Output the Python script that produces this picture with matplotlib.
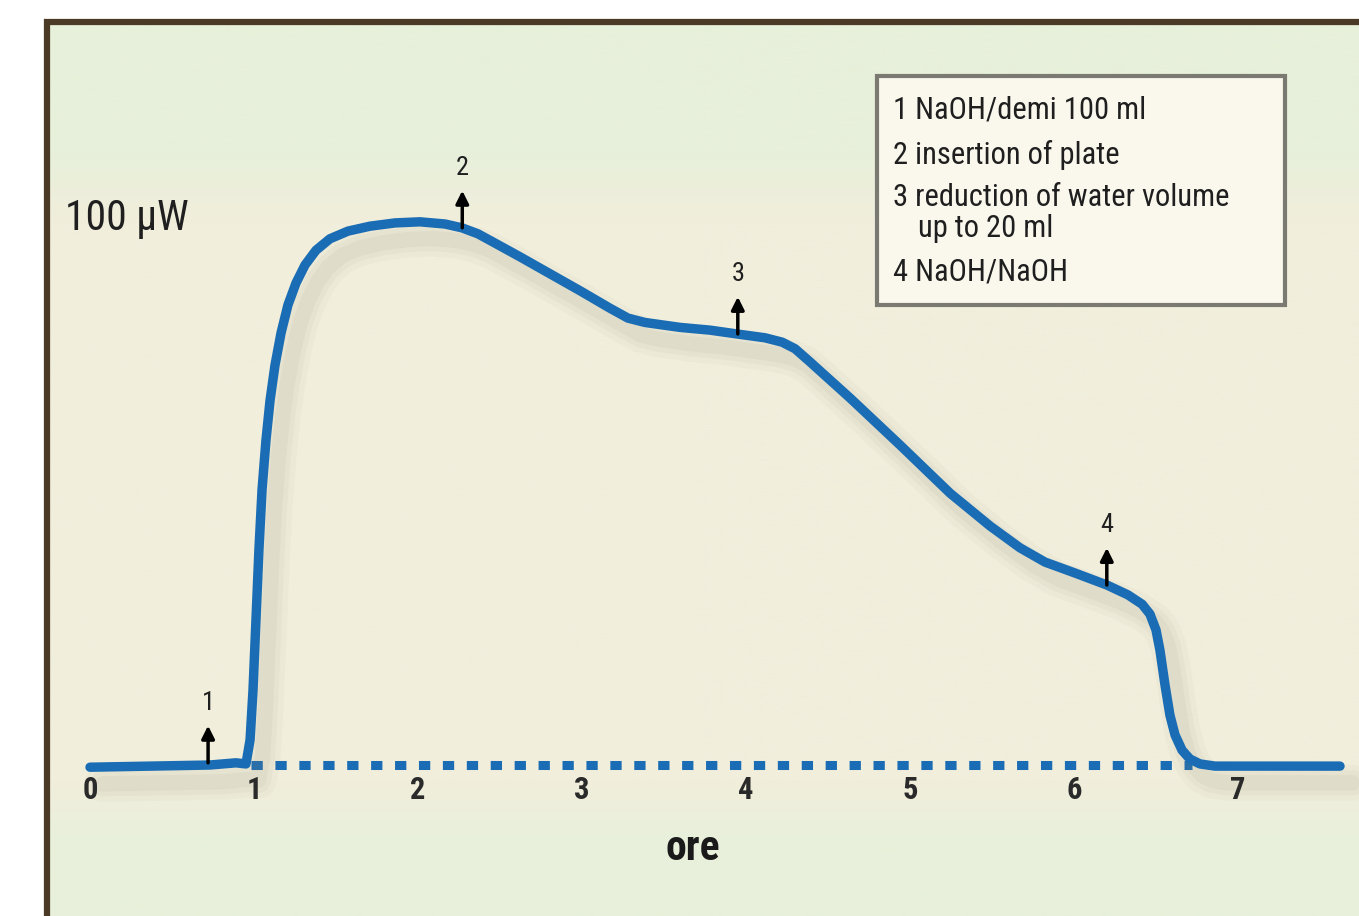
import numpy as np
import matplotlib
matplotlib.use("Agg")
import matplotlib.pyplot as plt
import matplotlib.patheffects as pe
from matplotlib import font_manager
from matplotlib.patches import Rectangle

# heat flow trace (hours, microwatt)
hours = [0, 0.37, 0.73, 0.89, 0.951, 0.976, 0.994, 1.012, 1.030, 1.049, 1.073,
         1.098, 1.128, 1.165, 1.207, 1.256, 1.311, 1.378, 1.463, 1.573, 1.707,
         1.860, 2.012, 2.165, 2.268, 2.366, 2.470, 2.622, 2.805, 2.988, 3.171,
         3.280, 3.384, 3.598, 3.780, 3.945, 4.116, 4.220, 4.299, 4.390, 4.634,
         4.939, 5.244, 5.488, 5.671, 5.823, 6.006, 6.201, 6.329, 6.415, 6.463,
         6.500, 6.524, 6.555, 6.585, 6.616, 6.659, 6.707, 6.768, 6.860, 7.622]
power = [-0.4, -0.2, 0.0, 0.4, 0.2, 4.6, 13.7, 26.5, 39.3, 50.3, 59.4,
         66.7, 73.1, 79.0, 84.1, 88.1, 91.4, 94.1, 96.2, 97.6, 98.5,
         99.1, 99.3, 98.9, 98.2, 97.1, 95.4, 92.9, 89.8, 86.7, 83.5,
         81.7, 80.9, 80.0, 79.5, 78.8, 78.1, 77.3, 76.1, 73.7, 67.1,
         58.5, 49.7, 43.7, 39.7, 37.1, 35.1, 32.9, 31.1, 29.4, 27.6,
         24.7, 21.0, 14.6, 9.1, 5.5, 2.7, 1.1, 0.2, -0.2, -0.2]

baseline_x = [0.98, 6.72]
baseline_y = [0, 0]

# events marked with arrows
event_labels = ["1", "2", "3", "4"]
event_x = [0.72, 2.27, 3.95, 6.20]
event_y = [0.4, 98.2, 78.8, 32.9]

tick_pos = [0, 1, 2, 3, 4, 5, 6, 7]
tick_labels = ["0", "1", "2", "3", "4", "5", "6", "7"]

legend_lines = ["1 NaOH/demi 100 ml",
                "2 insertion of plate",
                "3 reduction of water volume",
                "up to 20 ml",
                "4 NaOH/NaOH"]

# look for a narrow sans face, otherwise shrink Liberation Sans a bit
fonts = font_manager.fontManager.ttflist
names = {f.name for f in fonts}
font_kw = None
k = 1.0
for nm in ["Liberation Sans Narrow", "Arial Narrow", "Roboto Condensed",
           "Open Sans Condensed", "Noto Sans Condensed"]:
    if nm in names:
        font_kw = dict(family=[nm, "DejaVu Sans"])
        break
if font_kw is None:
    cond = [f for f in fonts if f.stretch in ("condensed", "semi-condensed")
            and f.name in ("Roboto", "Noto Sans", "Open Sans", "DejaVu Sans")]
    if cond:
        font_kw = dict(family=[cond[0].name, "DejaVu Sans"], fontstretch=cond[0].stretch)
        k = 0.88
    else:
        font_kw = dict(family=["Liberation Sans", "DejaVu Sans"])
        k = 0.84

blue = "#1a6db4"
ink = "#1f1f1f"

fig = plt.figure(figsize=(13.59, 9.16), dpi=100)
ax = fig.add_axes([0, 0, 1, 1])
ax.set_xlim(-0.5488, 7.7378)
ax.set_ylim(-27.6, 139.85)
ax.axis("off")

# panel background: greenish top and bottom, beige middle
fl, ft = 47 / 1359, 1 - 22 / 916
stops = np.array([0, 130, 200, 760, 820, 894]) / 894
cols = np.array([[231, 240, 218], [231, 240, 218], [241, 238, 220],
                 [241, 238, 220], [232, 240, 219], [232, 240, 219]]) / 255
rows = np.linspace(0, 1, 300)
grad = np.stack([np.interp(rows, stops, cols[:, c]) for c in range(3)], axis=-1)
ax.imshow(grad[:, None, :], extent=[fl, 1, 0, ft], transform=ax.transAxes,
          aspect="auto", zorder=0)
ax.plot([fl, fl], [0, ft + 0.003], transform=ax.transAxes, color="#4a3a26",
        lw=4.5, solid_capstyle="butt", zorder=1)
ax.plot([fl - 0.002, 1], [ft, ft], transform=ax.transAxes, color="#4a3a26",
        lw=4.5, solid_capstyle="butt", zorder=1)

# dotted zero line
ax.plot(baseline_x, baseline_y, color=blue, lw=6.5, dashes=(1.25, 1.4),
        solid_capstyle="butt", dash_capstyle="butt", zorder=3)

# trace with soft drop shadow
shadow = [pe.SimpleLineShadow(offset=(9, -12), shadow_color="#8a8570",
                              alpha=a, linewidth=w)
          for w, a in ((26, 0.04), (18, 0.06), (11, 0.07))]
ax.plot(hours, power, color=blue, lw=6.8, solid_joinstyle="round",
        solid_capstyle="round", zorder=4, path_effects=shadow + [pe.Normal()])

for lab, ex, ey in zip(event_labels, event_x, event_y):
    ax.annotate("", xy=(ex, ey + 6.8), xytext=(ex, ey),
                arrowprops=dict(arrowstyle="-|>", color="black", lw=2.5,
                                mutation_scale=19, shrinkA=0, shrinkB=0),
                zorder=5)
    ax.text(ex, ey + 11.0, lab, ha="center", va="center", fontsize=19 * k,
            color=ink, zorder=5, **font_kw)

for p, t in zip(tick_pos, tick_labels):
    ax.text(p, -4.6, t, ha="center", va="center", fontsize=22 * k,
            fontweight="bold", color="#2a2a2a", zorder=5, **font_kw)

ax.text(0.51, 0.074, "ore", transform=ax.transAxes, ha="center",
        va="center", fontsize=30 * k, fontweight="bold", color="#1a1a1a", **font_kw)
ax.text(0.0478, 0.762, "100 \u00b5W", transform=ax.transAxes, ha="left",
        va="center", fontsize=30 * k, color=ink, **font_kw)

# legend box
ax.add_patch(Rectangle((877 / 1359, 1 - 305 / 916), 408 / 1359, 229 / 916,
                       transform=ax.transAxes, facecolor="#faf7ec",
                       edgecolor="#7a7a72", lw=3, zorder=6))
leg_y = [0.880, 0.831, 0.784, 0.751, 0.703]
leg_x = [0.657, 0.657, 0.657, 0.6755, 0.657]
for txt, lx, ly in zip(legend_lines, leg_x, leg_y):
    ax.text(lx, ly, txt, transform=ax.transAxes, ha="left", va="center",
            fontsize=22 * k, color=ink, zorder=7, **font_kw)

fig.savefig("out.png", dpi=100)
